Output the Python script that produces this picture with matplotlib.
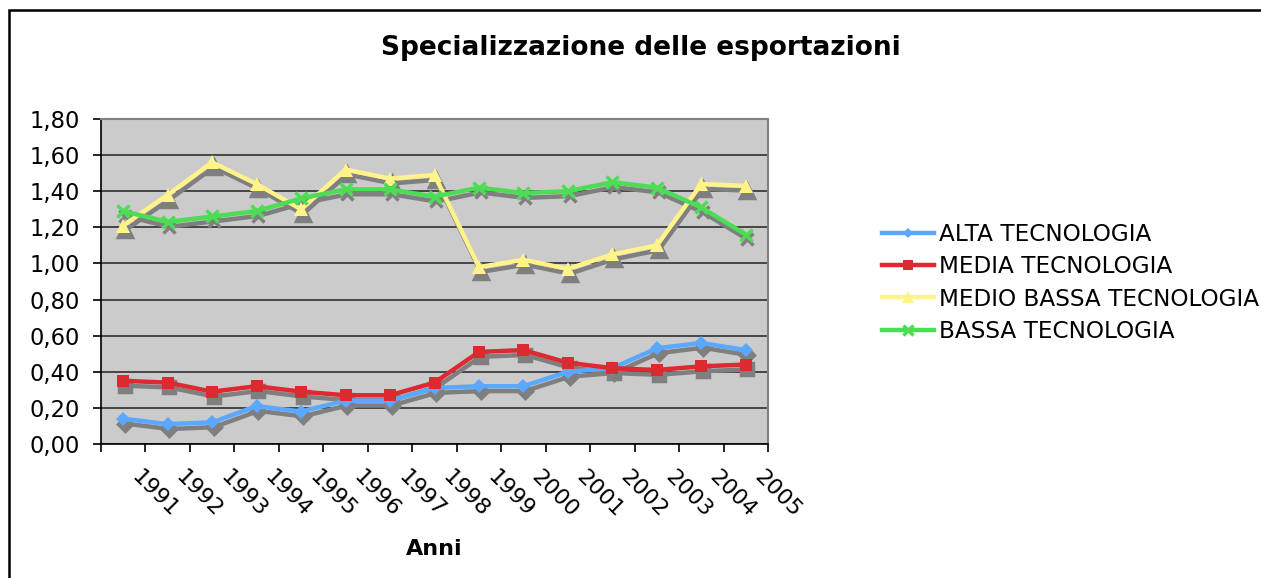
import matplotlib
matplotlib.use("Agg")
import matplotlib.pyplot as plt
from matplotlib.lines import Line2D
from matplotlib.transforms import ScaledTranslation, blended_transform_factory
from matplotlib.ticker import FuncFormatter

# dati
anni = ["1991", "1992", "1993", "1994", "1995", "1996", "1997", "1998",
        "1999", "2000", "2001", "2002", "2003", "2004", "2005"]
alta = [0.14, 0.11, 0.12, 0.21, 0.18, 0.24, 0.24, 0.31, 0.32, 0.32, 0.40, 0.42, 0.53, 0.56, 0.52]
media = [0.35, 0.34, 0.29, 0.32, 0.29, 0.27, 0.27, 0.34, 0.51, 0.52, 0.45, 0.42, 0.41, 0.43, 0.44]
medio_bassa = [1.21, 1.38, 1.56, 1.44, 1.30, 1.52, 1.47, 1.49, 0.98, 1.02, 0.97, 1.05, 1.10, 1.44, 1.43]
bassa = [1.29, 1.23, 1.26, 1.29, 1.36, 1.41, 1.41, 1.37, 1.42, 1.39, 1.40, 1.45, 1.42, 1.31, 1.16]

nomi = ["ALTA TECNOLOGIA", "MEDIA TECNOLOGIA", "MEDIO BASSA TECNOLOGIA", "BASSA TECNOLOGIA"]
serie = [alta, media, medio_bassa, bassa]
colori = ["#5aa8ff", "#dd2a31", "#fff38a", "#4cdd55"]
marker = ["D", "s", "^", "x"]
msize = [7, 8.5, 10, 9]

W, H = 1261, 578
fig = plt.figure(figsize=(W / 100, H / 100), dpi=100)
ax = fig.add_axes([101 / W, 1 - 444 / H, (768 - 101) / W, (444 - 119) / H])
ax.set_facecolor("#cbcbcb")

x = list(range(len(anni)))

# ombre
ombra = ax.transData + ScaledTranslation(1.2 / 72, -3.5 / 72, fig.dpi_scale_trans)
for s, m, ms in zip(serie, marker, msize):
    ax.plot(x, s, color="#7f7f7f", lw=3.2, marker=m, ms=ms, mew=2.5,
            transform=ombra, zorder=2, solid_joinstyle="miter")

for s, c, m, ms, n in zip(serie, colori, marker, msize, nomi):
    ax.plot(x, s, color=c, lw=3.2, marker=m, ms=ms, mew=2.5 if m == "x" else 0,
            label=n, zorder=3, solid_joinstyle="miter")

ax.set_xlim(-0.5, len(anni) - 0.5)
ax.set_ylim(0, 1.8)
ax.set_yticks([i * 0.2 for i in range(10)])
ax.yaxis.set_major_formatter(FuncFormatter(lambda v, p: f"{v:.2f}".replace(".", ",")))
ax.set_xticks([i - 0.5 for i in range(len(anni) + 1)])
ax.set_xticklabels([])
ax.tick_params(axis="both", direction="out", length=6, width=1.2, color="black")
ax.tick_params(axis="y", labelsize=16.3, pad=9)
ax.grid(axis="y", color="#222222", lw=1.1)
ax.set_axisbelow(True)
for sp in ["top", "right"]:
    ax.spines[sp].set_color("#808080")
    ax.spines[sp].set_linewidth(1.5)
for sp in ["left", "bottom"]:
    ax.spines[sp].set_color("black")
    ax.spines[sp].set_linewidth(1.2)

tr = blended_transform_factory(ax.transData, ax.transAxes)
for i, a in enumerate(anni):
    ax.text(i + 0.42, -0.07, a, transform=tr, rotation=-45, rotation_mode="anchor",
            ha="left", va="top", fontsize=16)

fig.text(434 / W, 1 - 549 / H, "Anni", ha="center", va="center", fontsize=16, fontweight="bold")
fig.text(641 / W, 1 - 48 / H, "Specializzazione delle esportazioni", ha="center", va="center",
         fontsize=19, fontweight="bold")

fig.legend(loc="upper left", bbox_to_anchor=(882 / W, 1 - 223 / H), frameon=False,
           fontsize=16.7, handlelength=2.25, handletextpad=0.2, labelspacing=0.4,
           borderpad=0, borderaxespad=0, markerscale=0.8)

# bordo esterno (solo sinistra e sopra sono visibili)
bx, by = 9 / W, 1 - 10 / H
fig.add_artist(Line2D([bx, bx, 1.2], [-0.2, by, by], transform=fig.transFigure,
                      color="black", lw=1.8, solid_joinstyle="miter"))

fig.savefig("out.png", dpi=100)
